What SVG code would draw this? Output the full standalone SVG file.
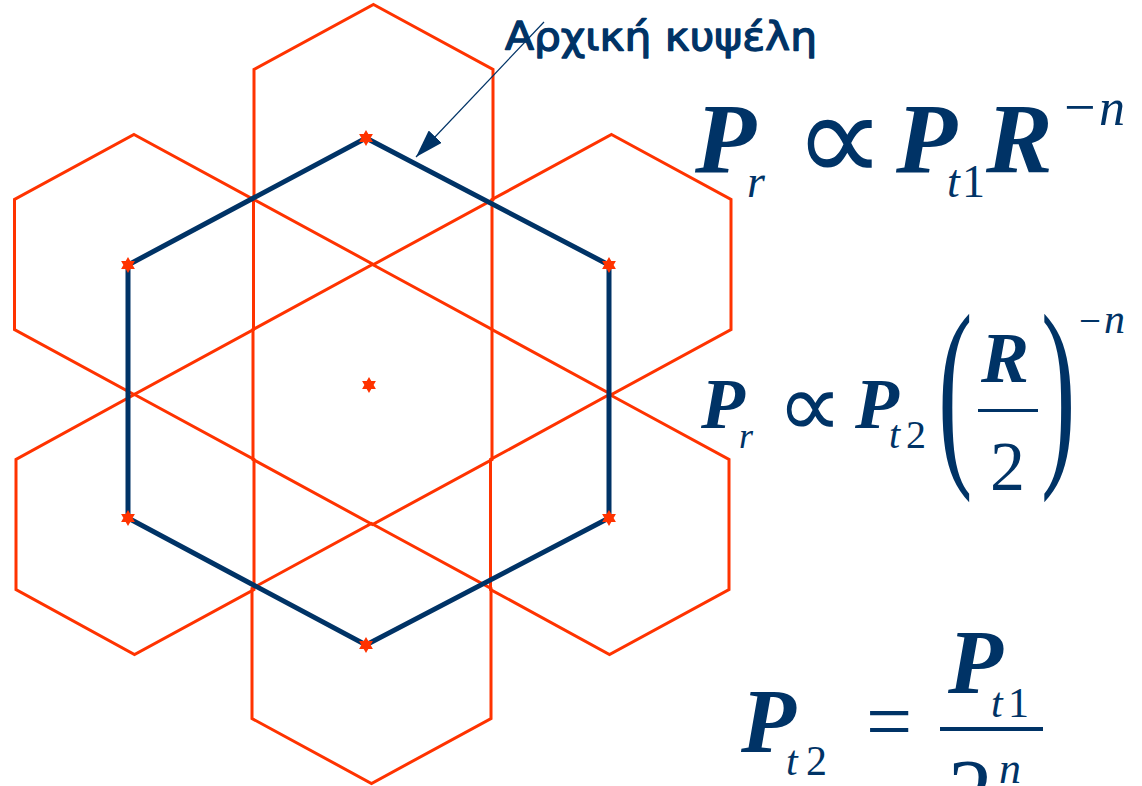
<svg xmlns="http://www.w3.org/2000/svg" width="1142" height="786" viewBox="0 0 1142 786">
<style>
.hex{fill:none;stroke:#ff3300;stroke-width:3;stroke-linejoin:miter}
.cell{fill:none;stroke:#003366;stroke-width:5;stroke-linejoin:miter}
.bi{font-weight:bold;font-style:italic}
.it{font-style:italic}
.lbl{font-family:'DejaVu Sans','Liberation Sans',sans-serif;fill:#003366;stroke:#003366;stroke-width:1.3;stroke-linejoin:round}
.sym{font-family:'DejaVu Sans',sans-serif;font-weight:200}
.bar{fill:#003366}
</style>
<defs>
<polygon id="star" points="0,-8 2.3,-4 6.9,-4 4.6,0 6.9,4 2.3,4 0,8 -2.3,4 -6.9,4 -4.6,0 -6.9,-4 -2.3,-4" fill="#ff3300"/>
<marker id="ah" viewBox="0 0 28 18" refX="28" refY="9" markerWidth="28" markerHeight="18" markerUnits="userSpaceOnUse" orient="auto">
<path d="M0,0 L28,9 L0,18 Z" fill="#003366"/>
</marker>
</defs>
<rect width="1142" height="786" fill="#ffffff"/>

<g id="hex-top"><polygon class="hex" points="373.5,4.5 493,69.5 493,199.5 373.5,264.5 254,199.5 254,69.5"/></g>
<g id="hex-center"><polygon class="hex" points="372.5,264.5 492,329.5 492,459.5 372.5,524.5 253,459.5 253,329.5"/></g>
<g id="hex-bottom"><polygon class="hex" points="371.5,523.5 491,588.5 491,718.5 371.5,783.5 252,718.5 252,588.5"/></g>
<g id="hex-upper-left"><polygon class="hex" points="134,134.5 253.5,199.5 253.5,329.5 134,394.5 14.5,329.5 14.5,199.5"/></g>
<g id="hex-lower-left"><polygon class="hex" points="134.5,394.5 254,459.5 254,589.5 134.5,654.5 16,589.5 16,459.5"/></g>
<g id="hex-upper-right"><polygon class="hex" points="611.5,134.5 731,199.5 731,329.5 611.5,394.5 492,329.5 492,199.5"/></g>
<g id="hex-lower-right"><polygon class="hex" points="609.5,394.5 729,459.5 729,589.5 609.5,654.5 490.5,589.5 490.5,459.5"/></g>

<g id="initial-cell"><polygon class="cell" points="366,138 609,265 609,518 366,645 128,518 128,265"/></g>

<g id="stations">
<use href="#star" x="366" y="138"/>
<use href="#star" x="609" y="265"/>
<use href="#star" x="609" y="518"/>
<use href="#star" x="366" y="645"/>
<use href="#star" x="128" y="518"/>
<use href="#star" x="128" y="265"/>
<use href="#star" x="369" y="385"/>
</g>

<g id="connectors">
<line x1="544" y1="22" x2="416" y2="157" stroke="#003366" stroke-width="1.2" marker-end="url(#ah)"/>
</g>

<g id="label">
<text class="lbl" x="505" y="50" font-size="39" textLength="312" lengthAdjust="spacingAndGlyphs">Αρχική κυψέλη</text>
</g>

<g id="formula-1" font-family="Liberation Serif" fill="#003366">
<text class="bi" x="695" y="172" font-size="100">P</text>
<text class="it" x="747" y="197" font-size="46">r</text>
<text class="sym" x="794" y="182" font-size="128">∝</text>
<text class="bi" x="896" y="172" font-size="100">P</text>
<text class="it" x="947" y="197" font-size="46">t</text>
<text x="962" y="197" font-size="46">1</text>
<text class="bi" x="986" y="172" font-size="100">R</text>
<text x="1064" y="126" font-size="56">−</text>
<text class="it" x="1099" y="125" font-size="52">n</text>
</g>

<g id="formula-2" font-family="Liberation Serif" fill="#003366">
<text class="bi" x="701" y="428" font-size="72">P</text>
<text class="it" x="739" y="448" font-size="36">r</text>
<text class="sym" x="777" y="437" font-size="92">∝</text>
<text class="bi" x="855" y="428" font-size="72">P</text>
<text class="it" x="889" y="448" font-size="40">t</text>
<text x="906" y="448" font-size="40">2</text>
<text transform="translate(938,458) scale(0.5,1)" font-size="207">(</text>
<text class="bi" x="981" y="382" font-size="72">R</text>
<rect class="bar" x="978" y="409" width="60" height="3"/>
<text x="990" y="490" font-size="70">2</text>
<text transform="translate(1041,458) scale(0.5,1)" font-size="207">)</text>
<text x="1079" y="334" font-size="39">−</text>
<text class="it" x="1104" y="333" font-size="42">n</text>
</g>

<g id="formula-3" font-family="Liberation Serif" fill="#003366">
<text class="bi" x="741" y="752" font-size="90">P</text>
<text class="it" x="786" y="775" font-size="42">t</text>
<text x="806" y="775" font-size="42">2</text>
<text x="866" y="749" font-size="82">=</text>
<rect class="bar" x="940" y="727" width="103" height="4"/>
<text class="bi" x="948" y="693" font-size="90">P</text>
<text class="it" x="991" y="717" font-size="42">t</text>
<text x="1008" y="717" font-size="42">1</text>
<text x="948" y="822" font-size="90">2</text>
<text class="it" x="999" y="783" font-size="44">n</text>
</g>
</svg>
